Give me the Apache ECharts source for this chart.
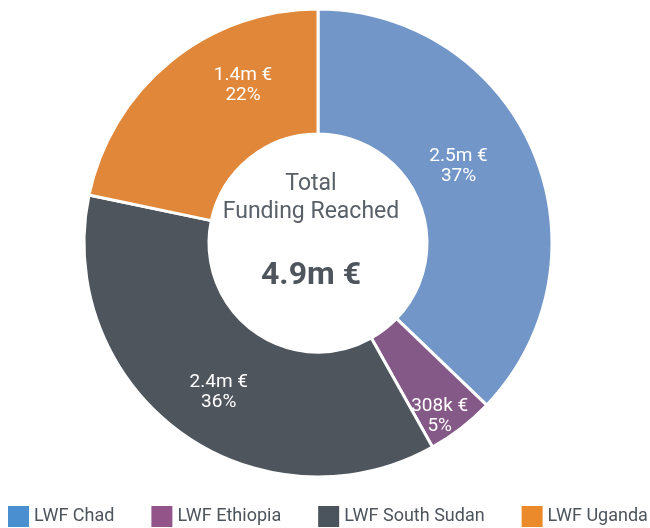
<!DOCTYPE html>
<html><head><meta charset="utf-8">
<script src="https://cdn.jsdelivr.net/npm/echarts@6/dist/echarts.min.js"></script>
<style>html,body{margin:0;padding:0;background:#fff}#c{width:650px;height:528px}</style>
</head><body><div id="c"></div>
<script>
var categories = ['LWF Chad', 'LWF Ethiopia', 'LWF South Sudan', 'LWF Uganda'];
var values = [2450, 308, 2400, 1430]; // thousand €
var amountLabels = ['2.5m €', '308k €', '2.4m €', '1.4m €'];
var percentLabels = ['37%', '5%', '36%', '22%'];
var centerTitle = ['Total', 'Funding Reached'];
var totalLabel = '4.9m €';

var sliceColors = ['#7396C9', '#845887', '#4F555D', '#E0873A'];
var legendColors = ['#4A8FD0', '#93548A', '#4B535C', '#EB8A2B'];
var labelShift = [[-20, -8], [15, 35], [4, 9], [35, -22]];

var chart = echarts.init(document.getElementById('c'));
var font = 'Roboto, "Noto Sans", sans-serif';
chart.setOption({
  animation: false,
  legend: {
    left: 8, top: 506, width: 900, padding: 0, itemWidth: 21, itemHeight: 21, itemGap: 37,
    icon: 'rect',
    textStyle: { fontFamily: font, fontSize: 18, color: '#4E545C' },
    data: categories.map(function (c, i) {
      return { name: c, itemStyle: { color: legendColors[i], borderWidth: 0 } };
    })
  },
  graphic: [
    { type: 'text', x: 311, y: 184, style: { text: centerTitle[0], align: 'center', verticalAlign: 'middle', fontFamily: font, fontSize: 23, fill: '#5A6068' } },
    { type: 'text', x: 311, y: 212, style: { text: centerTitle[1], align: 'center', verticalAlign: 'middle', fontFamily: font, fontSize: 23, fill: '#5A6068' } },
    { type: 'text', x: 311, y: 276, style: { text: totalLabel, align: 'center', verticalAlign: 'middle', fontFamily: font, fontSize: 32, fontWeight: 'bold', fill: '#4F555D' } }
  ],
  series: [{
    type: 'pie',
    center: [318, 243],
    radius: [109, 234],
    startAngle: 90,
    clockwise: true,
    itemStyle: { borderColor: '#fff', borderWidth: 3 },
    label: {
      position: 'inside', color: '#fff', fontFamily: font, fontSize: 19, lineHeight: 20,
      formatter: function (p) { return amountLabels[p.dataIndex] + '\n' + percentLabels[p.dataIndex]; }
    },
    labelLayout: function (p) { return { dx: labelShift[p.dataIndex][0], dy: labelShift[p.dataIndex][1] }; },
    emphasis: { disabled: true },
    data: categories.map(function (c, i) { return { name: c, value: values[i], itemStyle: { color: sliceColors[i] } }; })
  }]
});
</script></body></html>
